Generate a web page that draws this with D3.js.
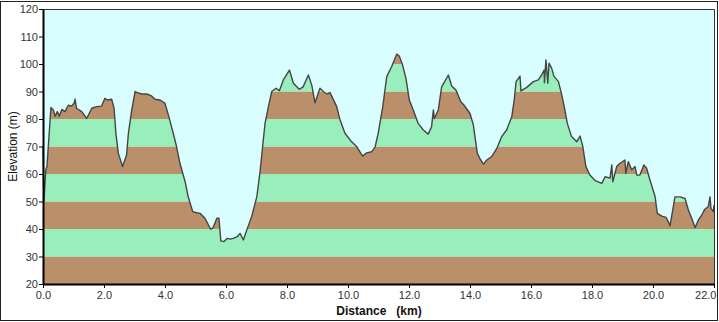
<!DOCTYPE html>
<html>
<head>
<meta charset="utf-8">
<script src="https://cdn.jsdelivr.net/npm/d3@7/dist/d3.min.js"></script>
<style>
  html, body { margin: 0; padding: 0; background: #ffffff; }
  svg { display: block; }
  text { font-family: "Liberation Sans", Arial, sans-serif; }
</style>
</head>
<body>
<script>
// ---- Data ----
const distanceKm = [
  0.00, 0.03, 0.09, 0.13, 0.26, 0.34, 0.40, 0.47, 0.53, 0.62, 0.72, 0.83, 0.94, 1.02, 1.05, 1.10,
  1.27, 1.43, 1.60, 1.76, 1.92, 2.03, 2.11, 2.25, 2.33, 2.39, 2.47, 2.61, 2.74, 2.80, 2.91, 3.02,
  3.09, 3.24, 3.40, 3.56, 3.67, 3.84, 4.00, 4.11, 4.27, 4.38, 4.49, 4.66, 4.76, 4.91, 5.04, 5.15,
  5.31, 5.50, 5.58, 5.70, 5.77, 5.83, 5.93, 6.04, 6.13, 6.24, 6.37, 6.46, 6.57, 6.68, 6.84, 7.01,
  7.11, 7.20, 7.28, 7.39, 7.50, 7.64, 7.75, 7.88, 8.08, 8.21, 8.40, 8.53, 8.70, 8.81, 8.92, 9.08,
  9.19, 9.32, 9.41, 9.63, 9.74, 9.90, 10.12, 10.29, 10.48, 10.61, 10.78, 10.89, 10.99, 11.14, 11.27, 11.43,
  11.60, 11.68, 11.79, 11.90, 12.01, 12.14, 12.30, 12.47, 12.63, 12.74, 12.80, 12.83, 12.96, 13.07, 13.29, 13.40,
  13.54, 13.70, 13.80, 14.00, 14.11, 14.24, 14.33, 14.44, 14.55, 14.71, 14.88, 15.04, 15.20, 15.37, 15.45, 15.51,
  15.64, 15.67, 15.86, 16.08, 16.24, 16.35, 16.43, 16.44, 16.49, 16.55, 16.59, 16.68, 16.75, 16.90, 17.01, 17.11,
  17.19, 17.33, 17.50, 17.61, 17.70, 17.80, 17.93, 18.10, 18.32, 18.43, 18.59, 18.65, 18.68, 18.81, 18.92, 19.08,
  19.11, 19.19, 19.30, 19.41, 19.47, 19.57, 19.70, 19.79, 19.90, 20.07, 20.14, 20.29, 20.43, 20.50, 20.56, 20.61,
  20.72, 20.89, 21.05, 21.16, 21.27, 21.38, 21.49, 21.60, 21.70, 21.81, 21.87, 21.90, 21.98, 22.00
];
const elevationM = [
  70.0, 50.0, 61.5, 62.7, 84.2, 83.3, 81.0, 82.7, 81.0, 83.5, 82.7, 85.0, 84.7, 85.7, 87.2, 83.9,
  82.7, 80.2, 83.9, 84.5, 84.7, 87.5, 86.9, 87.2, 83.9, 74.8, 67.5, 62.7, 66.9, 74.8, 83.3, 90.0,
  89.6, 89.1, 89.1, 88.4, 87.2, 86.9, 85.7, 81.5, 74.8, 69.9, 63.9, 57.2, 51.7, 46.3, 45.9, 45.7,
  43.9, 39.9, 40.5, 43.9, 43.9, 35.7, 35.4, 36.6, 36.3, 36.6, 37.2, 38.4, 36.0, 39.6, 44.5, 51.7,
  60.2, 69.9, 78.4, 84.5, 90.0, 91.2, 90.3, 94.2, 97.8, 93.0, 90.8, 91.7, 96.0, 92.4, 85.9, 91.2,
  90.0, 89.1, 89.6, 84.5, 79.6, 74.8, 71.7, 69.9, 66.5, 67.7, 68.1, 69.9, 74.8, 84.5, 95.4, 99.0,
  103.6, 102.9, 99.6, 94.8, 86.9, 83.3, 78.4, 76.0, 74.5, 77.2, 83.3, 80.2, 83.3, 91.7, 96.0, 92.0,
  90.5, 86.3, 85.1, 82.0, 77.8, 67.5, 65.5, 63.6, 65.1, 66.3, 69.3, 73.6, 76.0, 80.8, 86.9, 93.6,
  95.6, 90.2, 91.5, 93.6, 94.2, 96.0, 97.8, 93.2, 101.5, 93.0, 100.3, 98.4, 95.6, 93.6, 88.7, 83.3,
  78.4, 73.6, 71.7, 73.8, 69.9, 62.7, 59.6, 57.6, 56.6, 59.0, 58.5, 63.3, 57.2, 62.7, 63.9, 65.1,
  60.2, 64.5, 61.5, 62.7, 59.6, 59.6, 63.3, 62.1, 57.8, 51.7, 45.7, 44.7, 44.2, 42.7, 41.1, 44.5,
  51.7, 51.7, 51.1, 46.9, 43.9, 40.5, 43.3, 45.1, 47.2, 48.1, 51.7, 47.5, 46.3, 48.7
];
const xTicks = [0, 2, 4, 6, 8, 10, 12, 14, 16, 18, 20, 22];
const yTicks = [20, 30, 40, 50, 60, 70, 80, 90, 100, 110, 120];
const bandStarts = [20, 30, 40, 50, 60, 70, 80, 90, 100, 110];
const xTitle = "Distance\u00a0\u00a0\u00a0(km)";
const yTitle = "Elevation (m)";

// ---- Layout ----
const W = 719, H = 322;
const M = { left: 43, right: 714, top: 9, bottom: 284 };
const colBrown = "#b99069", colGreen = "#99efbb", colBg = "#d9feff";

const svg = d3.select("body").append("svg").attr("width", W).attr("height", H);

const x = d3.scaleLinear().domain([0, 22]).range([M.left, M.right]);
const y = d3.scaleLinear().domain([20, 120]).range([M.bottom, M.top]);

// outer border
svg.append("rect").attr("x", 0.5).attr("y", 1.5).attr("width", 717).attr("height", 319)
  .attr("fill", "#ffffff").attr("stroke", "#222").attr("stroke-width", 1);

// plot background
svg.append("rect").attr("x", M.left).attr("y", M.top)
  .attr("width", M.right - M.left).attr("height", M.bottom - M.top)
  .attr("fill", colBg);

const pts = distanceKm.map((d, i) => [d, elevationM[i]]);

const area = d3.area().x(d => x(d[0])).y0(y(20)).y1(d => y(d[1])).curve(d3.curveLinear);
const line = d3.line().x(d => x(d[0])).y(d => y(d[1])).curve(d3.curveLinear);

svg.append("clipPath").attr("id", "terrain").append("path").attr("d", area(pts));

svg.append("g").attr("clip-path", "url(#terrain)")
  .selectAll("rect").data(bandStarts).join("rect")
  .attr("x", M.left).attr("width", M.right - M.left)
  .attr("y", d => y(d + 10)).attr("height", d => y(d) - y(d + 10))
  .attr("fill", (d, i) => i % 2 === 0 ? colBrown : colGreen);

svg.append("path").attr("d", line(pts))
  .attr("fill", "none").attr("stroke", "#454545").attr("stroke-width", 1.4)
  .attr("stroke-linejoin", "round");

// plot frame (top/right)
svg.append("path")
  .attr("d", `M${M.left},${M.top + 0.5}H${M.right + 0.5}V${M.bottom}`)
  .attr("fill", "none").attr("stroke", "#333").attr("stroke-width", 1);

// axes
const yAxis = d3.axisLeft(y).tickValues(yTicks).tickSize(4).tickSizeOuter(0).tickFormat(d3.format("d"));
const xAxis = d3.axisBottom(x).tickValues(xTicks).tickSize(4).tickSizeOuter(0).tickFormat(d3.format(".1f"));

const gy = svg.append("g").attr("transform", `translate(${M.left},0)`).call(yAxis);
const gx = svg.append("g").attr("transform", `translate(0,${M.bottom})`).call(xAxis);

[gx, gy].forEach(g => {
  g.select(".domain").attr("stroke", "#000").attr("stroke-width", 2);
  g.selectAll(".tick line").attr("stroke", "#000").attr("stroke-width", 1);
  g.selectAll(".tick text").attr("fill", "#333").attr("font-size", 11)
    .attr("font-family", "'Liberation Sans', Arial, sans-serif");
});
gy.selectAll(".tick text").attr("x", -5);
gx.selectAll(".tick text").attr("y", 7);
// keep the last x label inside the frame
gx.selectAll(".tick text").filter(d => d === 22).attr("text-anchor", "end").attr("dx", 2);

// titles
svg.append("text").attr("x", 379).attr("y", 315).attr("text-anchor", "middle")
  .attr("font-size", 12).attr("font-weight", "bold").attr("fill", "#111").text(xTitle);
svg.append("text").attr("transform", `translate(17,${(M.top + M.bottom) / 2}) rotate(-90)`)
  .attr("text-anchor", "middle").attr("font-size", 12).attr("fill", "#111").text(yTitle);
</script>
</body>
</html>
